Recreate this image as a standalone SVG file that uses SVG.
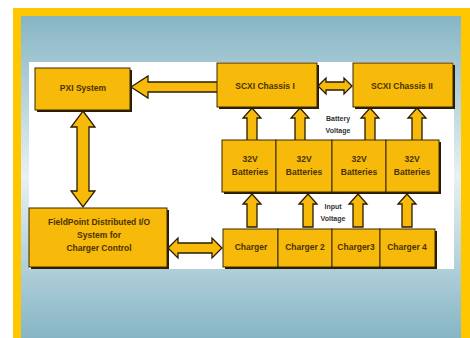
<svg xmlns="http://www.w3.org/2000/svg" xmlns:xlink="http://www.w3.org/1999/xlink" width="470" height="338" viewBox="0 0 470 338">
<style>
.box{fill:#F7B90A;stroke:#3a2800;stroke-width:1}
.sh{fill:#2a1c00}
.arr{fill:#F7B90A;stroke:#2a1c00;stroke-width:1.3;stroke-linejoin:miter}
text{font-family:"Liberation Sans",Arial,sans-serif;font-weight:bold;font-size:8.5px;fill:#4a3300;text-anchor:middle}
.lbl{fill:#333333;font-size:7px}
</style>
<defs>
<linearGradient id="bg" x1="0" y1="0" x2="0" y2="1">
<stop offset="0" stop-color="#86B5C5"/>
<stop offset="0.5" stop-color="#E8F1F3"/>
<stop offset="1" stop-color="#86B5C5"/>
</linearGradient>
<path id="up" d="M0,0 L9,10 L5,10 L5,33 L-5,33 L-5,10 L-9,10 Z"/>
</defs>
<rect width="470" height="338" fill="#ffffff"/>
<rect x="13" y="8" width="457" height="330" fill="#FFC700"/>
<rect x="21" y="16" width="440" height="322" fill="url(#bg)"/>
<rect x="29" y="62" width="425" height="207" fill="#ffffff"/>

<g id="connectors">
<path class="arr" d="M131,87 L148,76 L148,82 L218,82 L218,92 L148,92 L148,98 Z"/>
<path class="arr" d="M318,86 L326,78 L326,82 L344,82 L344,78 L352,86 L344,94 L344,90 L326,90 L326,94 Z"/>
<path class="arr" d="M83,111 L95,127 L89,127 L89,191 L95,191 L83,207 L71,191 L77,191 L77,127 L71,127 Z"/>
<path class="arr" d="M168,248 L178,238 L178,243 L212,243 L212,238 L222,248 L212,258 L212,253 L178,253 L178,258 Z"/>
<use href="#up" xlink:href="#up" class="arr" x="252" y="108"/>
<use href="#up" xlink:href="#up" class="arr" x="300" y="108"/>
<use href="#up" xlink:href="#up" class="arr" x="370" y="108"/>
<use href="#up" xlink:href="#up" class="arr" x="417" y="108"/>
<use href="#up" xlink:href="#up" class="arr" x="252" y="194"/>
<use href="#up" xlink:href="#up" class="arr" x="308" y="194"/>
<use href="#up" xlink:href="#up" class="arr" x="358" y="194"/>
<use href="#up" xlink:href="#up" class="arr" x="407" y="194"/>
<text class="lbl" x="338" y="121">Battery</text>
<text class="lbl" x="338" y="133">Voltage</text>
<text class="lbl" x="333" y="209">Input</text>
<text class="lbl" x="333" y="221">Voltage</text>
</g>

<g id="pxi">
<rect class="sh" x="37" y="70" width="95" height="42"/>
<rect class="box" x="35" y="68" width="95" height="42"/>
<text x="83" y="91">PXI System</text>
</g>
<g id="scxi1">
<rect class="sh" x="219" y="65" width="100" height="44"/>
<rect class="box" x="217" y="63" width="100" height="44"/>
<text x="265" y="89">SCXI Chassis I</text>
</g>
<g id="scxi2">
<rect class="sh" x="355" y="65" width="100" height="44"/>
<rect class="box" x="353" y="63" width="100" height="44"/>
<text x="402" y="89">SCXI Chassis II</text>
</g>
<g id="batteries">
<rect class="sh" x="224" y="142" width="217" height="52"/>
<rect class="box" x="222" y="140" width="54" height="52"/>
<rect class="box" x="276" y="140" width="56" height="52"/>
<rect class="box" x="332" y="140" width="54" height="52"/>
<rect class="box" x="386" y="140" width="53" height="52"/>
<text x="250" y="162">32V</text><text x="250" y="175">Batteries</text>
<text x="304" y="162">32V</text><text x="304" y="175">Batteries</text>
<text x="359" y="162">32V</text><text x="359" y="175">Batteries</text>
<text x="412" y="162">32V</text><text x="412" y="175">Batteries</text>
</g>
<g id="fieldpoint">
<rect class="sh" x="31" y="210" width="138" height="59"/>
<rect class="box" x="29" y="208" width="138" height="59"/>
<text x="99" y="225">FieldPoint Distributed I/O</text>
<text x="99" y="238">System for</text>
<text x="99" y="251">Charger Control</text>
</g>
<g id="chargers">
<rect class="sh" x="225" y="231" width="212" height="38"/>
<rect class="box" x="223" y="229" width="55" height="38"/>
<rect class="box" x="278" y="229" width="54" height="38"/>
<rect class="box" x="332" y="229" width="48" height="38"/>
<rect class="box" x="380" y="229" width="55" height="38"/>
<text x="251" y="250">Charger</text>
<text x="305" y="250">Charger 2</text>
<text x="356" y="250">Charger3</text>
<text x="407" y="250">Charger 4</text>
</g>
</svg>
